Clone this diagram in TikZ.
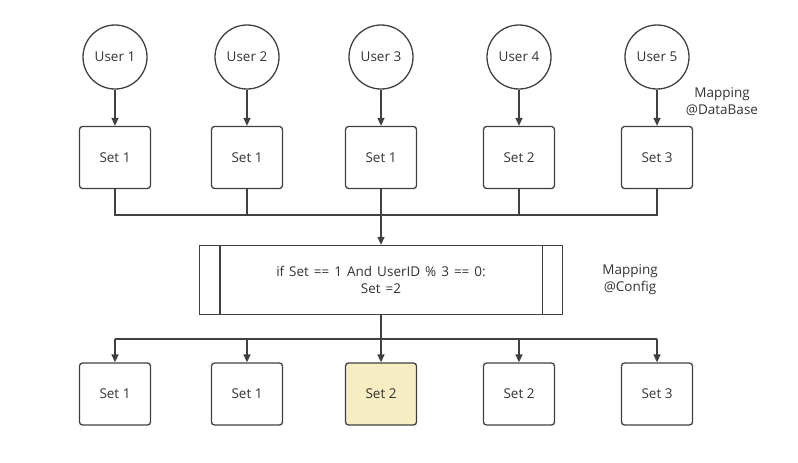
\documentclass[tikz,border=0pt]{standalone}
\usepackage{fontspec}
\setmainfont{Open Sans}
\usetikzlibrary{arrows.meta}
\definecolor{ln}{HTML}{404040}
\definecolor{tx}{HTML}{333333}
\definecolor{hl}{HTML}{F6EDC2}
\begin{document}
\begin{tikzpicture}[x=1pt,y=-1pt,
  font=\fontsize{13.5}{17}\selectfont,
  user/.style={circle,draw=ln,line width=1.3pt,minimum size=64pt,inner sep=0pt,text=tx},
  setbox/.style={draw=ln,line width=1.3pt,rounded corners=3pt,minimum width=71pt,minimum height=62pt,inner sep=0pt,text=tx},
  conn/.style={draw=ln,line width=1.3pt},
  arr/.style={conn,-{Triangle[length=8pt,width=7pt]}},
  lbl/.style={text=tx,align=center}]
\useasboundingbox (0,0) rectangle (798,463);
\foreach \i/\x in {1/115,2/247,3/381,4/519,5/657}{
  \node[user] (u\i) at (\x,57) {User \i};
}
\node[setbox] (a1) at (115,157.5) {Set 1};
\node[setbox] (a2) at (247,157.5) {Set 1};
\node[setbox] (a3) at (381,157.5) {Set 1};
\node[setbox] (a4) at (519,157.5) {Set 2};
\node[setbox] (a5) at (657,157.5) {Set 3};
\foreach \i in {1,...,5}{ \draw[arr] (u\i) -- (a\i); }
\node[draw=ln,line width=1.3pt,minimum width=363pt,minimum height=69pt,inner sep=0pt,align=center,text=tx,
  font=\fontsize{13.5}{16.5}\selectfont] (p) at (381,280)
  {\spaceskip=0.37em\relax if Set == 1 And UserID \% 3 == 0:\\\spaceskip=0.37em\relax Set =2};
\draw[conn] ([xshift=21pt]p.north west) -- ([xshift=21pt]p.south west);
\draw[conn] ([xshift=-21pt]p.north east) -- ([xshift=-21pt]p.south east);
\coordinate (t1) at (115,215);
\coordinate (t5) at (657,215);
\draw[conn] (a1.south) -- (t1) -- (t5) -- (a5.south);
\draw[conn] (a2.south) -- (a2.south |- t1);
\draw[conn] (a4.south) -- (a4.south |- t1);
\draw[arr] (a3.south) -- (p.north);
\node[setbox] (b1) at (115,394) {Set 1};
\node[setbox] (b2) at (247,394) {Set 1};
\node[setbox,fill=hl] (b3) at (381,394) {Set 2};
\node[setbox] (b4) at (519,394) {Set 2};
\node[setbox] (b5) at (657,394) {Set 3};
\coordinate (m1) at (115,339);
\coordinate (m5) at (657,339);
\draw[conn] (p.south) -- (p.south |- m1);
\draw[conn] (m1) -- (m5);
\foreach \i in {1,...,5}{ \draw[arr] (b\i.north |- m1) -- (b\i); }
\node[lbl] (l1) at (722,102) {Mapping\\@DataBase};
\node[lbl] (l2) at (630,280) {Mapping\\@Config};
\end{tikzpicture}
\end{document}
